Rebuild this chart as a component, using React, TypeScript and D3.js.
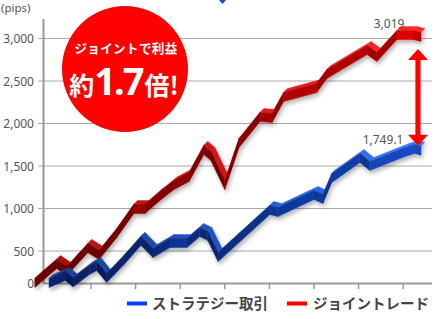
import React from "react";
import * as d3 from "d3";

const yTicks = [0, 500, 1000, 1500, 2000, 2500, 3000];
const xTicks = [10, 20, 30, 40, 50, 60, 70, 80];

const jointPeriods = [-2.6, 2.3, 4.6, 9.3, 11.8, 15.8, 19.6, 22.1, 25.2, 28.6, 32.0, 35.3, 36.9, 40.0, 43.2, 47.9, 50.6, 53.2, 60.6, 62.9, 71.9, 74.1, 78.6, 82.2, 84.0];
const jointValues = [0, 296, 187, 535, 437, 712, 994, 994, 1135, 1276, 1370, 1688, 1617, 1276, 1770, 2076, 2064, 2311, 2417, 2582, 2864, 2782, 3040, 3040, 3019];

const stratPeriods = [0.6, 4.2, 6.0, 9.6, 11.3, 13.5, 17.4, 21.2, 23.9, 27.7, 31.5, 34.4, 36.2, 38.5, 50.1, 51.9, 60.0, 62.0, 64.0, 70.3, 72.5, 80.4, 82.6, 84.0];
const stratValues = [0, 109, 10, 203, 265, 78, 359, 620, 468, 594, 594, 723, 676, 406, 982, 958, 1159, 1112, 1359, 1594, 1500, 1664, 1700, 1680];

const seriesNames = ["ストラテジー取引", "ジョイントレード"];
const endLabels = ["1,749.1", "3,019"];
const unitLabel = "(pips)";
const badgeTop = "ジョイントで利益";

const W = 440;
const H = 319;
const plotLeft = 43.5;
const plotRight = 432;

const x = d3.scaleLinear().domain([0, 90]).range([46.4, 447.8]);
const y = d3.scaleLinear().domain([0, 500, 3000]).range([283, 251, 38.5]);

type Pt = [number, number];

function Ribbon({ pts, front, top, id }: { pts: Pt[]; front: string[]; top: string[]; id: string }) {
  const h = 9;
  const dx = 4;
  const dy = -4;
  const segs = [];
  for (let i = 0; i < pts.length - 1; i++) {
    const [px, py] = pts[i];
    const [qx, qy] = pts[i + 1];
    const ang = Math.atan2(-(qy - py), qx - px);
    const shade = Math.min(0.35, 0.3 * Math.abs(Math.sin(ang)) + (ang < 0 ? 0.08 : 0));
    const frontPoly = [
      [px, py + h / 2],
      [qx, qy + h / 2],
      [qx, qy - h / 2],
      [px, py - h / 2],
    ];
    const topPoly = [
      [px, py - h / 2],
      [qx, qy - h / 2],
      [qx + dx, qy - h / 2 + dy],
      [px + dx, py - h / 2 + dy],
    ];
    segs.push({ frontPoly, topPoly, shade, i });
  }
  const ps = (a: number[][]) => a.map((p) => p.join(",")).join(" ");
  return (
    <g filter="url(#shadow)">
      <defs>
        <linearGradient id={id + "f"} gradientUnits="userSpaceOnUse" x1={40} x2={430} y1={0} y2={0}>
          <stop offset="0" stopColor={front[0]} />
          <stop offset="0.5" stopColor={front[1]} />
          <stop offset="1" stopColor={front[2]} />
        </linearGradient>
        <linearGradient id={id + "t"} gradientUnits="userSpaceOnUse" x1={40} x2={430} y1={0} y2={0}>
          <stop offset="0" stopColor={top[0]} />
          <stop offset="0.5" stopColor={top[1]} />
          <stop offset="1" stopColor={top[2]} />
        </linearGradient>
      </defs>
      {segs.map((s) => (
        <polygon key={"t" + s.i} points={ps(s.topPoly)} fill={`url(#${id}t)`} stroke={`url(#${id}t)`} strokeWidth={0.4} />
      ))}
      {segs.map((s) => (
        <g key={s.i}>
          <polygon points={ps(s.frontPoly)} fill={`url(#${id}f)`} stroke={`url(#${id}f)`} strokeWidth={0.5} />
          <polygon points={ps(s.frontPoly)} fill="#000" opacity={s.shade} />
        </g>
      ))}
    </g>
  );
}

export default function App() {
  const redPts: Pt[] = jointPeriods.map((p, i) => [x(p), y(jointValues[i])]);
  const bluePts: Pt[] = stratPeriods.map((p, i) => [x(p), y(stratValues[i])]);
  const redEnd = redPts[redPts.length - 1];
  const blueEnd = bluePts[bluePts.length - 1];
  const arrowX = 418;
  const arrowTop = redEnd[1] + 12;
  const arrowBot = blueEnd[1] - 5;
  const hw = 10;
  const hh = 11;
  const sw = 2.6;
  const arrowPath = `M${arrowX},${arrowTop} L${arrowX + hw},${arrowTop + hh} L${arrowX + sw},${arrowTop + hh} L${arrowX + sw},${arrowBot - hh} L${arrowX + hw},${arrowBot - hh} L${arrowX},${arrowBot} L${arrowX - hw},${arrowBot - hh} L${arrowX - sw},${arrowBot - hh} L${arrowX - sw},${arrowTop + hh} L${arrowX - hw},${arrowTop + hh} Z`;
  const font = "'Noto Sans', 'Noto Sans CJK JP', sans-serif";
  const jp = "'Noto Sans CJK JP', 'Noto Sans', sans-serif";
  return (
    <svg width={W} height={H} style={{ position: "fixed", left: 0, top: 0, background: "#fff" }}>
      <defs>
        <filter id="shadow" x="-10%" y="-10%" width="130%" height="130%">
          <feDropShadow dx="1.5" dy="3" stdDeviation="2" floodColor="#000" floodOpacity="0.3" />
        </filter>
      </defs>
      {yTicks.filter((t) => t > 0).map((t) => (
        <line key={t} x1={38} x2={plotRight} y1={y(t)} y2={y(t)} stroke="#a8a8a8" strokeWidth={1} />
      ))}
      {yTicks.map((t) => (
        <text key={"l" + t} x={34} y={y(t) + 4.5} textAnchor="end" fontFamily={font} fontSize={12} fill="#555">
          {d3.format(",")(t)}
        </text>
      ))}
      <text x={1} y={12} fontFamily={font} fontSize={11.5} fill="#555">{unitLabel}</text>
      <line x1={plotLeft} x2={plotLeft} y1={19} y2={284} stroke="#999" strokeWidth={2} />
      <line x1={plotLeft} x2={plotRight} y1={283.5} y2={283.5} stroke="#999" strokeWidth={2} />
      {xTicks.map((t) => (
        <line key={t} x1={x(t)} x2={x(t)} y1={283} y2={289} stroke="#999" strokeWidth={1.5} />
      ))}
      <circle cx={125} cy={69} r={63} fill="#ff0000" />
      <text x={126} y={53} textAnchor="middle" fontFamily={jp} fontWeight={700} fontSize={12.6} fill="#fff" letterSpacing={0.3}>{badgeTop}</text>
      <text x={124} y={95} textAnchor="middle" fontFamily={jp} fontWeight={700} fill="#fff">
        <tspan fontSize={25}>約</tspan>
        <tspan fontSize={38} letterSpacing={-2} fontFamily="'Noto Sans', sans-serif">1.7</tspan>
        <tspan fontSize={25} dx={2}>倍</tspan>
        <tspan fontSize={25}>!</tspan>
      </text>
      <Ribbon pts={redPts} id="red" front={["#800000", "#b00000", "#e50000"]} top={["#a81010", "#d81818", "#ff2a2a"]} />
      <Ribbon pts={bluePts} id="blue" front={["#082472", "#0f3aa0", "#1a56e0"]} top={["#1a3c92", "#2456c8", "#3c7aff"]} />
      <text x={redEnd[0] - 32} y={redEnd[1] - 9} textAnchor="middle" fontFamily={font} fontSize={12} fill="#555">{endLabels[1]}</text>
      <text x={blueEnd[0] - 38} y={blueEnd[1] - 7} textAnchor="middle" fontFamily={font} fontSize={12} fill="#555">{endLabels[0]}</text>
      <path d={arrowPath} fill="#ff0000" />
      <path d="M219,0 L226,0 L222.5,4 Z" fill="#1050e0" />
      <rect x={127} y={301.5} width={20} height={4} fill="#0a40f5" />
      <text x={152} y={308.5} fontFamily={jp} fontWeight={700} fontSize={14.5} fill="#444">{seriesNames[0]}</text>
      <rect x={287} y={301.5} width={20} height={4} fill="#ff0000" />
      <text x={313} y={308.5} fontFamily={jp} fontWeight={700} fontSize={14.5} fill="#444">{seriesNames[1]}</text>
    </svg>
  );
}
